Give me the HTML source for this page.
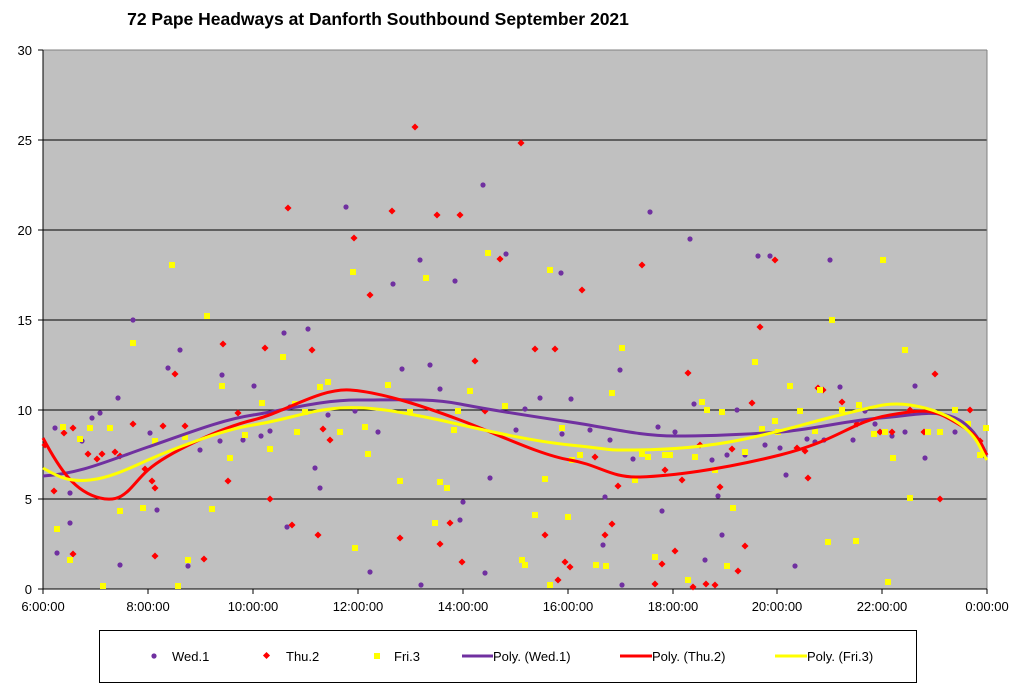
<!DOCTYPE html>
<html><head><meta charset="utf-8"><style>
html,body{margin:0;padding:0;background:#fff;}
svg{display:block;font-family:"Liberation Sans",Arial,sans-serif;}
</style></head><body>
<svg id="s" width="1024" height="693" viewBox="0 0 1024 693" xmlns="http://www.w3.org/2000/svg">
<text x="378" y="25" font-size="17.5" font-weight="bold" text-anchor="middle" fill="#000">72 Pape Headways at Danforth Southbound September 2021</text>
<rect x="43" y="50" width="944" height="539" fill="#c0c0c0"/>
<g stroke="#000" stroke-width="1">
<line x1="43" y1="140" x2="987" y2="140"/>
<line x1="43" y1="230" x2="987" y2="230"/>
<line x1="43" y1="320" x2="987" y2="320"/>
<line x1="43" y1="410" x2="987" y2="410"/>
<line x1="43" y1="499" x2="987" y2="499"/>
<line x1="43" y1="50" x2="987" y2="50" stroke="#808080"/>
<line x1="987" y1="50" x2="987" y2="589" stroke="#808080"/>
<line x1="43" y1="50" x2="43" y2="589"/>
<line x1="43" y1="589" x2="987" y2="589"/>
</g>
<g id="ticks" stroke="#000"></g>
<g font-size="13" fill="#000" text-anchor="end">
<text x="32" y="55">30</text><text x="32" y="145">25</text><text x="32" y="235">20</text>
<text x="32" y="325">15</text><text x="32" y="415">10</text><text x="32" y="504">5</text><text x="32" y="594">0</text>
</g>
<g font-size="13" fill="#000" text-anchor="middle">
<text x="43" y="611">6:00:00</text><text x="148" y="611">8:00:00</text><text x="253" y="611">10:00:00</text>
<text x="358" y="611">12:00:00</text><text x="463" y="611">14:00:00</text><text x="568" y="611">16:00:00</text>
<text x="673" y="611">18:00:00</text><text x="777" y="611">20:00:00</text><text x="882" y="611">22:00:00</text><text x="987" y="611">0:00:00</text>
</g>
<g id="pts"></g>
<g fill="none" stroke-width="3">
<path stroke="#7030a0" d="M43,476 C80,474 110,460 148,447 S220,420 253,415 S320,400 358,400 S430,398 460,404 S530,416 570,422 S640,436 675,436 S750,434 780,432 S850,420 880,418 S930,410 950,416 S980,440 987,455"/>
<path stroke="#ff0000" d="M43,438 C60,470 75,492 100,498 S130,486 148,470 S220,428 253,420 S320,388 350,390 S420,405 460,420 S540,455 570,460 S610,478 640,477 S720,470 780,455 S850,422 890,415 S935,410 960,425 S980,445 987,455"/>
<path stroke="#ffff00" d="M43,468 C60,478 70,482 90,480 S130,468 148,460 S220,430 253,425 S310,410 340,408 S400,412 430,418 S520,440 570,445 S600,450 630,450 S700,448 740,440 S800,425 840,415 S890,402 910,405 S950,415 965,428 S980,450 987,460"/>
</g>
<rect x="99.5" y="630.5" width="817" height="52" fill="#fff" stroke="#000"/>
<g font-size="13" fill="#000">
<circle cx="154" cy="656" r="2.6" fill="#7030a0"/><text x="172" y="661">Wed.1</text>
<rect x="264" y="653" width="5" height="5" transform="rotate(45 266.5 655.5)" fill="#ff0000"/><text x="286" y="661">Thu.2</text>
<rect x="374" y="653" width="6" height="6" fill="#ffff00"/><text x="394" y="661">Fri.3</text>
<line x1="462" y1="656" x2="493" y2="656" stroke="#7030a0" stroke-width="3"/><text x="493" y="661">Poly. (Wed.1)</text>
<line x1="620" y1="656" x2="652" y2="656" stroke="#ff0000" stroke-width="3"/><text x="652" y="661">Poly. (Thu.2)</text>
<line x1="775" y1="656" x2="807" y2="656" stroke="#ffff00" stroke-width="3"/><text x="807" y="661">Poly. (Fri.3)</text>
</g>
</svg>
<script>
var NS="http://www.w3.org/2000/svg",g=document.getElementById("pts"),tk=document.getElementById("ticks");
function el(n,a,p){var e=document.createElementNS(NS,n);for(var k in a)e.setAttribute(k,a[k]);p.appendChild(e);}
[50,140,230,320,410,499,589].forEach(function(y){el("line",{x1:38,y1:y,x2:43,y2:y},tk);});
[43,148,253,358,463,568,673,777,882,987].forEach(function(x){el("line",{x1:x,y1:589,x2:x,y2:594},tk);});
var P=[[55,428],[57,553],[70,523],[70,493],[82,441],[92,418],[100,413],[118,398],[120,565],[133,320],[150,433],[157,510],[168,368],[180,350],[188,566],[200,450],[220,441],[222,375],[243,440],[254,386],[261,436],[270,431],[287,527],[284,333],[290,407],[308,329],[315,468],[320,488],[328,415],[346,207],[355,411],[370,572],[378,432],[393,284],[402,369],[420,260],[421,585],[430,365],[440,389],[455,281],[460,520],[463,502],[483,185],[485,573],[490,478],[506,254],[516,430],[525,409],[540,398],[561,273],[562,434],[571,399],[590,430],[603,545],[610,440],[605,497],[620,370],[622,585],[633,459],[650,212],[658,427],[662,511],[675,432],[690,239],[694,404],[705,560],[712,460],[718,496],[722,535],[727,455],[737,410],[745,455],[758,256],[765,445],[770,256],[780,448],[786,475],[795,566],[807,439],[815,442],[824,440],[830,260],[840,387],[853,440],[865,411],[875,424],[885,432],[892,436],[905,432],[915,386],[925,458],[955,432],[985,456]];
var R=[[45,445],[54,491],[64,433],[73,554],[73,428],[88,454],[97,459],[102,454],[115,452],[120,456],[133,424],[145,469],[152,481],[155,556],[155,488],[163,426],[175,374],[185,426],[204,559],[223,344],[228,481],[238,413],[265,348],[270,499],[288,208],[292,525],[312,350],[318,535],[323,429],[330,440],[354,238],[370,295],[392,211],[400,538],[415,127],[437,215],[440,544],[450,523],[460,215],[462,562],[475,361],[485,411],[500,259],[521,143],[535,349],[545,535],[555,349],[558,580],[565,562],[570,567],[582,290],[595,457],[605,535],[612,524],[618,486],[642,265],[655,584],[662,564],[665,470],[675,551],[682,480],[688,373],[693,587],[700,445],[706,584],[715,585],[720,487],[732,449],[738,571],[745,546],[752,403],[760,327],[775,260],[797,448],[805,451],[808,478],[818,388],[823,390],[842,402],[857,424],[880,432],[892,432],[910,410],[924,432],[935,374],[940,499],[970,410],[980,441]];
var Y=[[57,529],[63,427],[70,560],[80,439],[90,428],[103,586],[110,428],[120,511],[133,343],[143,508],[155,441],[172,265],[178,586],[185,437],[188,560],[207,316],[212,509],[222,386],[230,458],[245,435],[262,403],[270,449],[283,357],[295,404],[297,432],[305,412],[320,387],[328,382],[340,432],[353,272],[355,548],[365,427],[368,454],[388,385],[400,481],[410,412],[426,278],[435,523],[440,482],[447,488],[454,430],[458,411],[470,391],[488,253],[505,406],[522,560],[525,565],[535,515],[545,479],[550,270],[550,585],[562,428],[568,517],[572,460],[580,455],[596,565],[606,566],[612,393],[622,348],[635,480],[642,454],[648,457],[655,557],[665,455],[670,455],[688,580],[695,457],[702,402],[707,410],[715,470],[722,412],[727,566],[733,508],[745,452],[755,362],[762,429],[775,421],[778,432],[790,386],[800,411],[815,431],[820,390],[828,542],[832,320],[842,410],[856,541],[859,405],[874,434],[885,432],[883,260],[888,582],[893,458],[905,350],[910,498],[928,432],[940,432],[955,410],[968,424],[980,455],[986,428]];
P.forEach(function(p){el("circle",{cx:p[0],cy:p[1],r:2.6,fill:"#7030a0"},g);});
R.forEach(function(p){el("rect",{x:p[0]-2.5,y:p[1]-2.5,width:5,height:5,fill:"#ff0000",transform:"rotate(45 "+p[0]+" "+p[1]+")"},g);});
Y.forEach(function(p){el("rect",{x:p[0]-3,y:p[1]-3,width:6,height:6,fill:"#ffff00"},g);});
</script>
</body></html>
